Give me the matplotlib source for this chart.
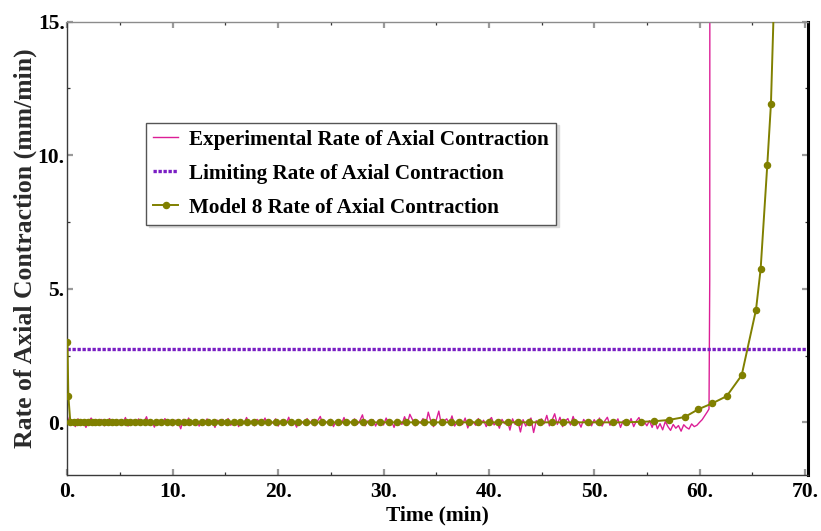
import matplotlib
matplotlib.use('Agg')
import matplotlib.pyplot as plt
import numpy as np
from matplotlib.ticker import MultipleLocator, FuncFormatter

# measured contraction rate, sampled every 0.25 min from t = 0
SAMPLE_STEP = 0.25
exp_rate = [
    0.20, -0.08, 0.05, -0.16, 0.13, -0.03, 0.08, -0.19, 0.03, 0.16, -0.10, 0.06, -0.05, 0.11, -0.13, 0.02, 0.14, -0.06, 0.05, -0.11,
    0.10, -0.03, 0.18, -0.14, 0.03, 0.08, -0.08, 0.13, -0.05, 0.00, 0.21, -0.10, 0.05, -0.18, 0.10, 0.03, -0.06, 0.14, -0.03, 0.06,
    -0.13, 0.08, 0.02, -0.24, 0.11, -0.05, 0.16, -0.08, 0.03, 0.10, -0.14, 0.05, -0.02, 0.13, -0.10, 0.06, -0.19, 0.08, 0.00, 0.11,
    -0.06, 0.14, -0.11, 0.03, 0.08, -0.16, 0.10, -0.03, 0.18, -0.08, 0.05, -0.13, 0.11, 0.02, -0.05, 0.16, -0.10, 0.06, -0.03, 0.13,
    -0.14, 0.05, 0.10, -0.06, 0.19, -0.11, 0.03, -0.18, 0.08, 0.02, -0.08, 0.14, -0.05, 0.10, -0.13, 0.06, 0.22, -0.10, 0.03, -0.05,
    0.11, -0.16, 0.05, 0.08, -0.06, 0.18, -0.11, 0.03, -0.03, 0.13, -0.08, 0.06, 0.28, -0.13, 0.05, -0.02, 0.10, -0.14, 0.08, 0.03,
    -0.10, 0.16, -0.05, 0.06, -0.19, 0.11, 0.02, -0.08, 0.21, -0.06, 0.30, 0.10, -0.13, 0.05, -0.03, 0.14, -0.10, 0.38, 0.03, -0.16,
    0.08, 0.42, -0.11, 0.05, 0.13, -0.06, 0.24, -0.14, 0.03, 0.10, -0.08, 0.16, -0.21, 0.06, 0.02, -0.11, 0.14, -0.05, 0.08, -0.16,
    0.06, 0.18, -0.10, 0.03, -0.22, 0.11, -0.05, 0.08, -0.29, 0.13, -0.08, 0.05, -0.36, 0.10, -0.14, 0.03, 0.16, -0.38, 0.06, -0.10,
    0.13, -0.05, 0.26, -0.13, 0.08, 0.32, -0.08, 0.19, -0.16, 0.05, 0.14, -0.10, 0.22, -0.06, 0.03, -0.18, 0.11, -0.03, 0.08, -0.13,
    0.10, -0.06, 0.16, -0.14, 0.05, 0.19, -0.11, 0.08, -0.05, 0.13, -0.19, 0.06, 0.03, -0.10, 0.14, -0.16, 0.05, 0.18, -0.08, 0.03,
    -0.13, 0.06, -0.19, 0.08, -0.24, -0.05, -0.28, 0.03, -0.16, -0.30, -0.08, -0.22, -0.12, -0.33, -0.09, -0.19, -0.25, -0.06, -0.16, -0.11,
    0.00, 0.10, 0.25, 0.40,
]
# failure spike at the end of the test
spike_time = [60.9, 60.97, 61.0]
spike_rate = [0.5, 5.35, 40.0]

limit_rate = 2.74

model_time = [
    0.0, 0.08, 0.27, 0.58, 0.90, 1.23, 1.57, 1.92, 2.28, 2.65, 3.03, 3.42, 3.82, 4.23, 4.65,
    5.08, 5.52, 5.97, 6.43, 6.90, 7.38, 7.87, 8.37, 8.88, 9.40, 9.93, 10.47, 11.02, 11.58, 12.15,
    12.73, 13.32, 13.92, 14.53, 15.15, 15.78, 16.42, 17.07, 17.73, 18.40, 19.08, 19.77, 20.47, 21.18, 21.90,
    22.63, 23.37, 24.12, 24.88, 25.65, 26.43, 27.22, 28.02, 28.83, 29.65, 30.48, 31.32, 32.17, 33.02, 33.86,
    34.74, 35.56, 36.41, 37.20, 38.09, 39.00, 39.99, 40.90, 41.79, 42.73, 43.84, 44.85, 45.96, 47.00, 48.10,
    49.37, 50.47, 51.74, 53.00, 54.42, 55.69, 57.11, 58.60, 59.89, 61.21, 62.58, 64.00, 65.36, 65.80, 66.43,
    66.78, 67.10,
]
model_rate = [
    3.0, 1.0, 0.0, 0.0, 0.0, 0.0, 0.0, 0.0, 0.0, 0.0, 0.0, 0.0, 0.0, 0.0, 0.0,
    0.0, 0.0, 0.0, 0.0, 0.0, 0.0, 0.0, 0.0, 0.0, 0.0, 0.0, 0.0, 0.0, 0.0, 0.0,
    0.0, 0.0, 0.0, 0.0, 0.0, 0.0, 0.0, 0.0, 0.0, 0.0, 0.0, 0.0, 0.0, 0.0, 0.0,
    0.0, 0.0, 0.0, 0.0, 0.0, 0.0, 0.0, 0.0, 0.0, 0.0, 0.0, 0.0, 0.0, 0.0, 0.0,
    0.0, 0.0, 0.0, 0.0, 0.0, 0.0, 0.0, 0.0, 0.0, 0.0, 0.0, 0.0, 0.0, 0.0, 0.0,
    0.0, 0.0, 0.0, 0.0, 0.02, 0.04, 0.09, 0.20, 0.49, 0.71, 0.98, 1.76, 4.21, 5.73, 9.62,
    11.92, 16.2,
]

labels = ['Experimental Rate of Axial Contraction',
          'Limiting Rate of Axial Contraction',
          'Model 8 Rate of Axial Contraction']

PINK = '#DC1E96'
PURPLE = '#7A1EC4'
OLIVE = '#808000'

plt.rcParams['font.family'] = ['Liberation Serif', 'DejaVu Serif']
plt.rcParams['font.weight'] = 'bold'

fig = plt.figure(figsize=(8.21, 5.31), dpi=100)
ax = fig.add_axes([0.0822, 0.1055, 0.902, 0.854])

exp_time = np.arange(len(exp_rate)) * SAMPLE_STEP
ax.plot(np.concatenate([exp_time, spike_time]), exp_rate + spike_rate,
        color=PINK, lw=1.0, zorder=1, label=labels[0])
ax.axhline(limit_rate, color=PURPLE, lw=2.4, dashes=(1.0, 0.5), zorder=2, label=labels[1])
ax.plot(model_time, model_rate, color=OLIVE, lw=1.4, marker='o', ms=4.4,
        zorder=3, label=labels[2])

ax.set_xlim(0, 70.3)
ax.set_ylim(-1.97, 15.0)

fmt = FuncFormatter(lambda v, pos: f'{v:.0f}.')
ax.xaxis.set_major_locator(MultipleLocator(10))
ax.xaxis.set_minor_locator(MultipleLocator(5))
ax.yaxis.set_major_locator(MultipleLocator(5))
ax.yaxis.set_minor_locator(MultipleLocator(2.5))
ax.xaxis.set_major_formatter(fmt)
ax.yaxis.set_major_formatter(fmt)
ax.tick_params(which='both', direction='in', top=True, right=True)
ax.tick_params(which='major', length=4.5, width=1.6, color='#9a9a9a', labelsize=15.5)
ax.tick_params(which='minor', length=2.5, width=0.9, color='#333333')
ax.tick_params(axis='x', which='major', pad=5)
ax.tick_params(axis='y', which='major', pad=2)

for side in ('left', 'bottom'):
    ax.spines[side].set_color('#3a3a3a')
    ax.spines[side].set_linewidth(1.0)
ax.spines['top'].set_color('#8c8c8c')
ax.spines['top'].set_linewidth(1.0)
ax.spines['right'].set_color('black')
ax.spines['right'].set_linewidth(2.2)

ax.set_xlabel('Time (min)', fontsize=15.5, fontweight='bold')
ax.xaxis.set_label_coords(0.5, -0.068)
ax.set_ylabel('Rate of Axial Contraction (mm/min)', fontsize=18.5, fontweight='bold',
              color='#2a2a2a')
ax.yaxis.set_label_coords(-0.041, 0.5)

leg = ax.legend(loc='upper left', bbox_to_anchor=(0.106, 0.777), borderaxespad=0,
                fontsize=15.25, frameon=True, fancybox=False, framealpha=1,
                edgecolor='#555555', handlelength=1.2, handletextpad=0.52,
                labelspacing=0.66, borderpad=0.33,
                shadow={'color': '0.85', 'alpha': 1})
leg.get_frame().set_linewidth(1.0)

fig.savefig('out.png', dpi=100)
